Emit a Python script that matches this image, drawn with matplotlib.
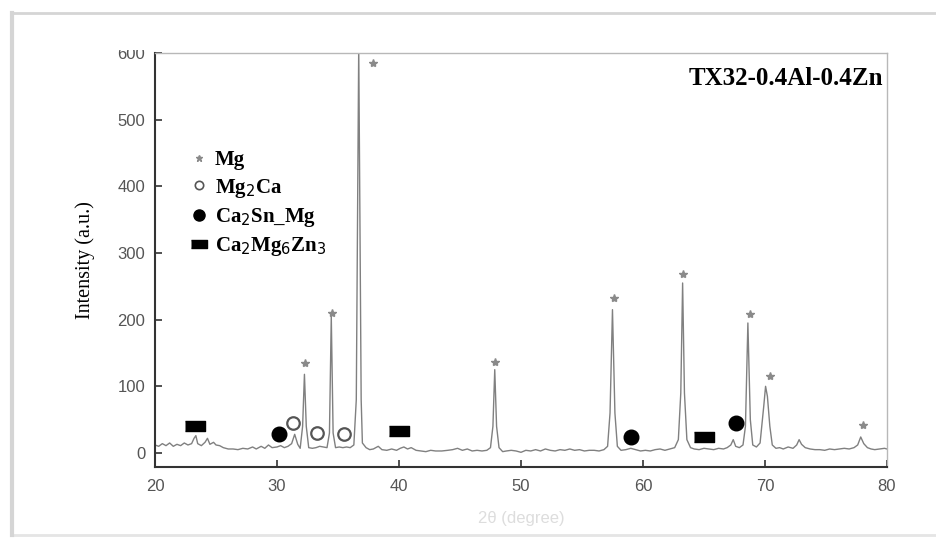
import matplotlib.pyplot as plt
from matplotlib.lines import Line2D
from matplotlib.patches import Rectangle

# XRD pattern (2theta, intensity)
two_theta = [20.0, 20.3, 20.6, 20.9, 21.2, 21.5, 21.8, 22.1, 22.4, 22.7, 23.0, 23.2, 23.35, 23.5, 23.8,
             24.1, 24.3, 24.5, 24.8, 25.0, 25.3, 25.6, 26.0, 26.4, 26.8, 27.2, 27.6, 28.0, 28.3, 28.7,
             29.0, 29.3, 29.6, 30.0, 30.3, 30.6, 30.9, 31.2, 31.45, 31.7, 31.9, 32.1, 32.25, 32.4, 32.6,
             32.9, 33.2, 33.5, 33.8, 34.1, 34.3, 34.45, 34.6, 34.8, 35.1, 35.4, 35.7, 36.0, 36.3, 36.5,
             36.7, 36.9, 37.0, 37.3, 37.6, 37.9, 38.3, 38.6, 39.0, 39.4, 39.8, 40.1, 40.4, 40.7, 41.0,
             41.4, 41.8, 42.2, 42.6, 43.0, 43.5, 44.0, 44.4, 44.8, 45.2, 45.6, 46.0, 46.4, 46.8, 47.2,
             47.5, 47.7, 47.85, 48.0, 48.2, 48.5, 48.8, 49.2, 49.6, 50.0, 50.4, 50.8, 51.2, 51.6, 52.0,
             52.4, 52.8, 53.2, 53.6, 54.0, 54.4, 54.8, 55.2, 55.6, 56.0, 56.4, 56.8, 57.1, 57.3, 57.5,
             57.7, 57.9, 58.2, 58.6, 59.0, 59.4, 59.8, 60.2, 60.6, 61.0, 61.4, 61.8, 62.2, 62.6, 62.9,
             63.1, 63.25, 63.4, 63.6, 63.9, 64.2, 64.6, 65.0, 65.4, 65.8, 66.2, 66.6, 66.9, 67.2, 67.4,
             67.6, 67.9, 68.2, 68.4, 68.6, 68.8, 69.0, 69.3, 69.6, 69.9, 70.05, 70.2, 70.4, 70.6, 70.9,
             71.2, 71.5, 71.9, 72.3, 72.6, 72.8, 73.0, 73.3, 73.7, 74.1, 74.5, 74.9, 75.3, 75.7, 76.1,
             76.5, 76.9, 77.3, 77.6, 77.85, 78.1, 78.4, 78.7, 79.0, 79.4, 79.8, 80.0]
intensity = [12, 10, 14, 11, 15, 10, 13, 11, 15, 12, 14, 22, 26, 14, 11,
             16, 22, 13, 16, 12, 11, 8, 6, 6, 5, 7, 6, 9, 6, 10,
             7, 12, 8, 9, 11, 8, 10, 14, 28, 13, 7, 40, 118, 40, 8,
             7, 8, 10, 9, 8, 30, 205, 30, 8, 9, 8, 9, 8, 12, 80,
             610, 80, 15, 8, 5, 6, 10, 5, 4, 6, 4, 7, 9, 6, 8,
             4, 3, 2, 4, 3, 3, 4, 5, 7, 4, 6, 3, 4, 3, 4,
             8, 40, 125, 40, 8, 2, 3, 4, 3, 1, 4, 3, 5, 3, 6,
             4, 3, 5, 4, 6, 4, 5, 3, 4, 4, 3, 5, 10, 60, 215,
             60, 10, 4, 5, 7, 5, 3, 4, 3, 5, 6, 4, 6, 8, 20,
             90, 255, 90, 20, 8, 6, 5, 7, 6, 5, 7, 6, 8, 12, 20,
             10, 8, 12, 40, 195, 50, 12, 9, 15, 70, 100, 85, 40, 12, 7,
             8, 6, 9, 7, 12, 20, 13, 8, 6, 5, 5, 4, 6, 5, 6,
             7, 6, 8, 12, 24, 14, 8, 6, 5, 6, 7, 6]

# phase markers (2theta, height)
mg_x = [32.3, 34.5, 37.9, 47.9, 57.6, 63.3, 68.8, 70.4, 78.0]
mg_y = [135, 210, 585, 136, 233, 268, 208, 115, 42]
mg2ca_x = [31.3, 33.3, 35.5]
mg2ca_y = [45, 30, 28]
ca2sn_x = [30.2, 59.0, 67.6]
ca2sn_y = [28, 24, 45]
ca2mgzn_x = [23.3, 40.0, 65.0]
ca2mgzn_y = [40, 33, 24]

rect = [(-1, -0.5), (1, -0.5), (1, 0.5), (-1, 0.5)]

fig = plt.figure(figsize=(9.36, 5.43), dpi=100)
ax = fig.add_axes([0.1656, 0.140, 0.782, 0.7624])

ax.plot(two_theta, intensity, color='#808080', lw=1.0, clip_on=True)
ax.plot(mg_x, mg_y, ls='none', marker='*', ms=6, color='#8a8a8a')
ax.plot(mg2ca_x, mg2ca_y, ls='none', marker='o', ms=9, mfc='white', mec='#555555', mew=1.6)
ax.plot(ca2sn_x, ca2sn_y, ls='none', marker='o', ms=10.5, color='black')
ax.plot(ca2mgzn_x, ca2mgzn_y, ls='none', marker=rect, ms=15, color='black')

ax.set_xlim(20, 80)
ax.set_ylim(-21, 600)
ax.set_xticks(range(20, 81, 10))
ax.set_yticks(range(0, 601, 100))
ax.tick_params(direction='in', length=5, width=1.2, colors='#333333',
               labelcolor='#555555', labelsize=12)
ax.tick_params(axis='x', pad=9)
ax.tick_params(axis='y', pad=7)
for lab in ax.get_xticklabels() + ax.get_yticklabels():
    lab.set_family('Liberation Sans')

for s in ['left', 'bottom']:
    ax.spines[s].set_color('#333333')
    ax.spines[s].set_linewidth(1.5)
for s in ['top', 'right']:
    ax.spines[s].set_color('#b8b8b8')
    ax.spines[s].set_linewidth(1.0)

ax.set_ylabel('Intensity (a.u.)', family='Liberation Serif', fontsize=14.5, labelpad=16)
ax.set_xlabel('2θ (degree)', family='Liberation Sans', fontsize=12, color='#dddddd', labelpad=12)

ax.text(0.995, 0.965, 'TX32-0.4Al-0.4Zn', transform=ax.transAxes, ha='right', va='top',
        family='Liberation Serif', fontweight='bold', fontsize=18)

handles = [
    Line2D([], [], ls='none', marker='*', ms=5, color='#8a8a8a'),
    Line2D([], [], ls='none', marker='o', ms=6, mfc='white', mec='#555555', mew=1.2),
    Line2D([], [], ls='none', marker='o', ms=8, color='black'),
    Line2D([], [], ls='none', marker=rect, ms=11, color='black'),
]
labels = ['Mg', 'Mg$_2$Ca', 'Ca$_2$Sn_Mg', 'Ca$_2$Mg$_6$Zn$_3$']
leg = ax.legend(handles, labels, loc='upper left', bbox_to_anchor=(0.038, 0.785),
                frameon=False, handlelength=0.8, handletextpad=0.35, labelspacing=0.3,
                borderaxespad=0, prop={'family': 'Liberation Serif', 'weight': 'bold', 'size': 15})

# screenshot frame and clipped top edge
fig.patches.append(Rectangle((0, 1 - 50 / 543), 0.16, 0.06, transform=fig.transFigure,
                             facecolor='white', edgecolor='none', zorder=5))
fig.add_artist(Line2D([12 / 936, 1], [1 - 13 / 543, 1 - 13 / 543], color='#d5d5d5', lw=2,
                      transform=fig.transFigure, zorder=6))
fig.add_artist(Line2D([12 / 936, 1], [1 - 535 / 543, 1 - 535 / 543], color='#e5e5e5', lw=2,
                      transform=fig.transFigure, zorder=6))
fig.add_artist(Line2D([12 / 936, 12 / 936], [1 - 13 / 543, 1 - 535 / 543], color='#d5d5d5', lw=3,
                      transform=fig.transFigure, zorder=6))

fig.savefig('out.png', dpi=100)
